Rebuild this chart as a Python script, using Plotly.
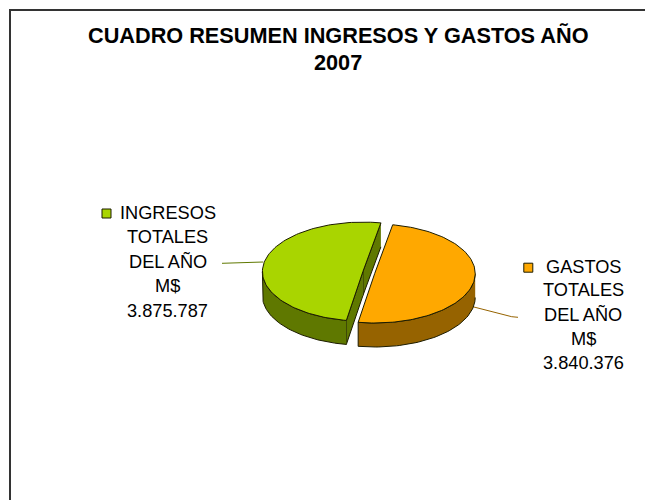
import numpy as np
import plotly.graph_objects as go

categories = ["GASTOS TOTALES DEL AÑO M$", "INGRESOS TOTALES DEL AÑO M$"]
values = [3840376, 3875787]
value_labels = ["3.840.376", "3.875.787"]
title_lines = ["CUADRO RESUMEN INGRESOS Y GASTOS AÑO", "2007"]
label_lines = [["GASTOS", "TOTALES", "DEL AÑO", "M$", value_labels[0]],
               ["INGRESOS", "TOTALES", "DEL AÑO", "M$", value_labels[1]]]

TOP = ["#FFA800", "#A9D500"]
WALL = ["#966300", "#5F7800"]
EDGE = "#1c1c00"
FONT = "Liberation Sans, Arial, sans-serif"
RX, RY, DEPTH = 100.5, 49.5, 24
START = 10.3
CENTERS = [(374.7, 273.5), (362.9, 271.6)]
PAGE_MARGIN = 8  # the page body offsets the plot by this much

fracs = np.array(values) / sum(values) * 360
a0 = [START, START + fracs[0]]
a1 = [START + fracs[0], START + 360]

def pt(c, t, dy=0):
    t = np.radians(t)
    return c[0] + RX * np.sin(t), c[1] - RY * np.cos(t) + dy

fig = go.Figure()

def poly(xs, ys, fill, edge=EDGE, w=1):
    fig.add_trace(go.Scatter(x=list(xs), y=list(ys), mode="lines", fill="toself",
                             fillcolor=fill, line=dict(color=edge, width=w),
                             hoverinfo="skip", showlegend=False))

# leader lines
fig.add_trace(go.Scatter(x=[472.7, 511.7, 518], y=[306.7, 316.7, 317.3], mode="lines",
                         line=dict(color=WALL[0], width=1), hoverinfo="skip", showlegend=False))
fig.add_trace(go.Scatter(x=[263.3, 222], y=[262, 263.3], mode="lines",
                         line=dict(color=WALL[1], width=1), hoverinfo="skip", showlegend=False))

# slice 2 (left)
c = CENTERS[1]
top_pt, bot_pt = pt(c, a1[1]), pt(c, a1[0])
poly([top_pt[0], c[0], c[0], top_pt[0]],
     [top_pt[1], c[1], c[1] + DEPTH, top_pt[1] + DEPTH], WALL[1])
poly([c[0], bot_pt[0], bot_pt[0], c[0]],
     [c[1], bot_pt[1], bot_pt[1] + DEPTH, c[1] + DEPTH], WALL[1])
ts = np.linspace(a1[0], 270, 60)
xa, ya = pt(c, ts)
xb, yb = pt(c, ts[::-1], DEPTH)
poly(np.r_[xa, xb], np.r_[ya, yb], WALL[1])
ts = np.linspace(a1[0], a1[1], 120)
xa, ya = pt(c, ts)
poly(np.r_[c[0], xa, c[0]], np.r_[c[1], ya, c[1]], TOP[1])

# slice 1 (right)
c = CENTERS[0]
ts = np.linspace(90, a0[1], 60)
xa, ya = pt(c, ts)
xb, yb = pt(c, ts[::-1], DEPTH)
poly(np.r_[xa, xb], np.r_[ya, yb], WALL[0])
ts = np.linspace(a0[0], a0[1], 120)
xa, ya = pt(c, ts)
poly(np.r_[c[0], xa, c[0]], np.r_[c[1], ya, c[1]], TOP[0])

# legend keys
fig.add_trace(go.Scatter(x=[528.3, 106.5], y=[267.7, 213.5], mode="markers",
                         marker=dict(symbol="square", size=9, color=TOP,
                                     line=dict(color=EDGE, width=1)),
                         hoverinfo="skip", showlegend=False))

ann = []
for txt, y in zip(title_lines, [35.5, 62]):
    ann.append(dict(x=338, y=y, text=f"<b>{txt}</b>", showarrow=False, xanchor="center",
                    yanchor="middle", xref="x", yref="y",
                    font=dict(family=FONT, size=21.7, color="black")))
for lines, cx, ys in [(label_lines[0], 583, [267, 290, 314, 338.5, 363]),
                      (label_lines[1], 167.5, [213, 236.5, 261, 285.5, 310.5])]:
    for txt, y in zip(lines, ys):
        ann.append(dict(x=cx, y=y, text=txt, showarrow=False, xanchor="center",
                        yanchor="middle", xref="x", yref="y",
                        font=dict(family=FONT, size=18.2, color="black")))

fig.update_layout(
    width=653 - PAGE_MARGIN, height=500 - PAGE_MARGIN, margin=dict(l=0, r=0, t=0, b=0),
    paper_bgcolor="white", plot_bgcolor="white", showlegend=False,
    xaxis=dict(range=[PAGE_MARGIN, 653], visible=False, fixedrange=True),
    yaxis=dict(range=[500, PAGE_MARGIN], visible=False, fixedrange=True),
    annotations=ann,
    shapes=[dict(type="line", xref="x", yref="y", x0=10, x1=10, y0=9, y1=500,
                 line=dict(color="#333333", width=2)),
            dict(type="line", xref="x", yref="y", x0=9, x1=653, y0=10, y1=10,
                 line=dict(color="#333333", width=2))],
)
fig.write_html("out.html", config=dict(displayModeBar=False))
